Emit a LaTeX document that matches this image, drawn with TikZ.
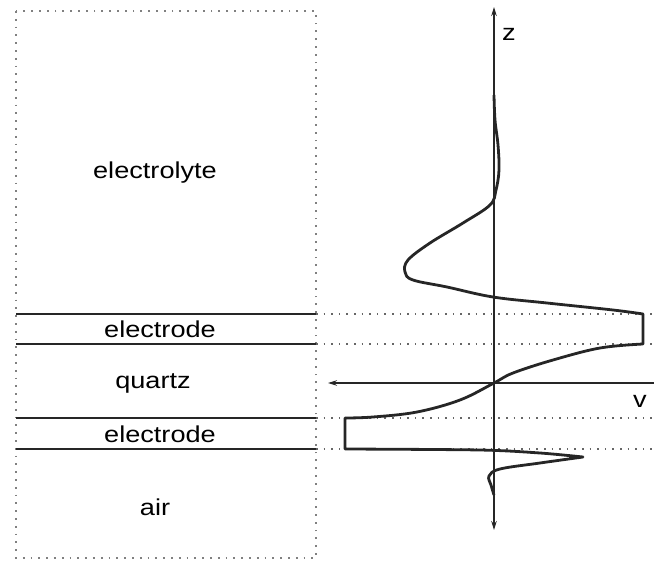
\documentclass[tikz,border=0pt]{standalone}
\usepackage{fontspec}
\setmainfont{Liberation Sans}
\usetikzlibrary{arrows.meta}
\begin{document}
\begin{tikzpicture}[x=1pt,y=-1pt,
  lbl/.style={anchor=base,inner sep=0pt,font=\fontsize{23}{28}\selectfont},
  ax/.style={line width=1.4pt,black!85},
  tip/.style={-{Stealth[length=9pt,width=5.5pt]}},
  layer/.style={line width=2.8pt,black!85},
  guide/.style={black!60,dash pattern=on 1.6pt off 6pt,line width=1.5pt},
  frame/.style={black!50,dash pattern=on 1.8pt off 6pt,line width=1.6pt},
  curve/.style={line width=2.8pt,black!85,line join=round}]
\useasboundingbox (0,0) rectangle (654,565);
% frame
\draw[frame] (16,11) rectangle (316,558);
% electrode lines and guides
\foreach \yy/\nm in {314/a,344/b,418/c,449/d}{
  \coordinate (L\nm) at (16,\yy);
  \coordinate (M\nm) at (316,\yy);
  \coordinate (R\nm) at (654,\yy);
  \draw[layer] (L\nm) -- (M\nm);
  \draw[guide] (M\nm) -- (R\nm);
}
% labels
\node[lbl] (t1) at (155,178) {\scalebox{1.18}[1]{electrolyte}};
\node[lbl] (t2) at (160,337) {\scalebox{1.18}[1]{electrode}};
\node[lbl] (t3) at (153,388) {\scalebox{1.18}[1]{quartz}};
\node[lbl] (t4) at (160,442) {\scalebox{1.18}[1]{electrode}};
\node[lbl] (t5) at (155,515) {\scalebox{1.18}[1]{air}};
% axes
\coordinate (zb) at (494,530);
\coordinate (zt) at (494,7);
\coordinate (vr) at (654,383);
\coordinate (vl) at (328,383);
\draw[ax,{Stealth[length=9pt,width=5.5pt]}-{Stealth[length=9pt,width=5.5pt]}] (zb) -- (zt);
\draw[ax,tip] (vr) -- (vl);
\node[lbl] (zl) at (509,40) {\scalebox{1.18}[1]{z}};
\node[lbl] (vlab) at (640,407) {\scalebox{1.18}[1]{v}};
% profile curve
\draw[curve] plot[smooth,tension=0.6] coordinates {(494,95) (495,120) (498,145) (499,170) (496,190) (490,205) (463,223) (430,243) (408,260) (405,272) (413,280) (447,287) (493,297) (547,303) (613,310) (643,314)}
  -- (643,344)
  -- plot[smooth,tension=0.6] coordinates {(643,344) (600,348) (553,360) (513,373) (494,383) (460,400) (417,412) (373,417) (345,418)}
  -- (345,449)
  -- plot[smooth,tension=0.5] coordinates {(345,449) (480,450) (540,453) (583,457)}
  -- plot[smooth,tension=0.6] coordinates {(583,457) (540,463) (500,469) (489,476) (491,485) (494,495)};
\end{tikzpicture}
\end{document}
